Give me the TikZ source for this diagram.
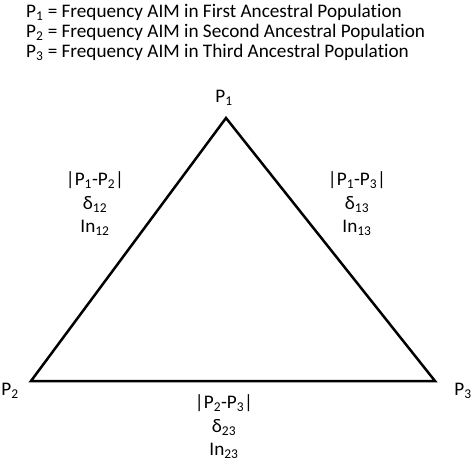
\documentclass[tikz,border=0pt]{standalone}
\usepackage{fontspec}
\setmainfont{Carlito}[Ligatures=NoCommon]
\tikzset{
	txt/.style={font=\fontsize{19.2}{23.5}\selectfont, inner sep=0pt},
	side/.style={txt, align=center}
}
\newcommand{\Pp}[1]{P\textsubscript{#1}}
\begin{document}
\begin{tikzpicture}[x=1pt, y=-1pt]
	\useasboundingbox (0,0) rectangle (472,461);
	%legend
	\node[txt, anchor=base west] (legA) at (26,17) {\Pp{1} = Frequency AIM in First Ancestral Population};
	\node[txt, anchor=base west] (legB) at (26,37) {\Pp{2} = Frequency AIM in Second Ancestral Population};
	\node[txt, anchor=base west] (legC) at (26,57) {\Pp{3} = Frequency AIM in Third Ancestral Population};
	
	%corners
	\coordinate (top) at (226,118);
	\coordinate (left) at (31,381);
	\coordinate (right) at (435,381);
	\draw[line width=2.5pt, line join=miter] (top) -- (left) -- (right) -- cycle;
	
	\node[txt] (labA) at (224,98) {\Pp{1}};
	\node[txt] (labB) at (10,391) {\Pp{2}};
	\node[txt] (labC) at (463,391) {\Pp{3}};
	
	%sides
	\node[side] (sideAB) at (95,204) {|\Pp{1}-\Pp{2}|\\δ\textsubscript{12}\\In\textsubscript{12}};
	\node[side] (sideAC) at (357,204) {|\Pp{1}-\Pp{3}|\\δ\textsubscript{13}\\In\textsubscript{13}};
	\node[side] (sideBC) at (224,427) {|\Pp{2}-\Pp{3}|\\δ\textsubscript{23}\\In\textsubscript{23}};
\end{tikzpicture}
\end{document}
